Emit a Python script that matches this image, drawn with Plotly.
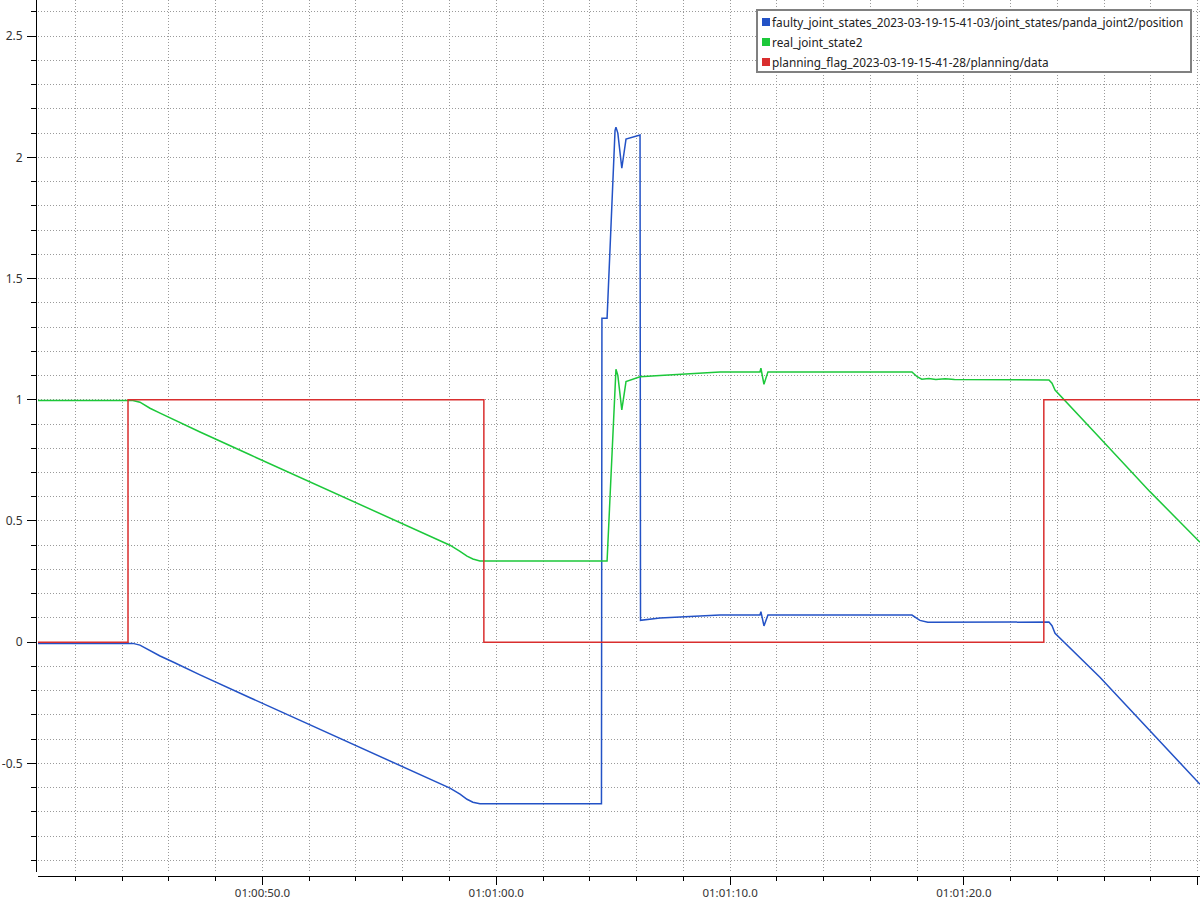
import plotly.graph_objects as go
import pandas as pd

# ---------------- data (seconds after 01:00:00) ----------------
BASE = pd.Timestamp("2023-03-19 01:00:00")

faulty_name = "faulty_joint_states_2023-03-19-15-41-03/joint_states/panda_joint2/position"
faulty_t = [40.40, 44.46, 44.76, 45.19, 45.62, 46.20, 47.33, 49.47, 51.60, 53.74,
            55.88, 56.74, 57.59, 58.02, 58.45, 58.75, 59.00, 59.30, 64.50, 64.52,
            64.74, 65.08, 65.12, 65.20, 65.37, 65.55, 66.15, 66.17, 67.00, 68.71,
            69.57, 71.28, 71.32, 71.45, 71.62, 77.78, 78.12, 78.46, 83.64, 83.77,
            83.90, 85.82, 87.96, 90.10]
faulty_v = [-0.005, -0.005, -0.012, -0.036, -0.057, -0.083, -0.135, -0.229, -0.322, -0.416,
            -0.510, -0.548, -0.585, -0.602, -0.627, -0.648, -0.660, -0.666, -0.666, 1.336,
            1.336, 2.110, 2.124, 2.100, 1.955, 2.075, 2.092, 0.090, 0.100, 0.108,
            0.112, 0.112, 0.126, 0.067, 0.112, 0.112, 0.090, 0.082, 0.083, 0.068,
            0.037, -0.145, -0.365, -0.586]

real_name = "real_joint_state2"
real_t = [40.40, 44.46, 44.76, 45.19, 45.62, 46.20, 47.33, 49.47, 51.60, 53.74,
          55.88, 56.74, 57.59, 58.02, 58.45, 58.75, 59.00, 59.30, 64.74, 65.08,
          65.12, 65.20, 65.37, 65.55, 66.15, 67.00, 68.71, 69.57, 71.28, 71.32,
          71.45, 71.62, 77.78, 78.00, 78.20, 78.50, 78.80, 79.20, 79.60, 83.64,
          83.77, 83.90, 85.82, 87.96, 90.10]
real_v = [0.997, 0.997, 0.990, 0.965, 0.945, 0.918, 0.867, 0.773, 0.680, 0.587,
          0.493, 0.456, 0.419, 0.400, 0.375, 0.355, 0.343, 0.335, 0.335, 1.100,
          1.126, 1.100, 0.958, 1.075, 1.095, 1.100, 1.110, 1.115, 1.115, 1.130,
          1.064, 1.115, 1.115, 1.095, 1.085, 1.088, 1.084, 1.087, 1.084, 1.082,
          1.068, 1.040, 0.842, 0.621, 0.412]

flag_name = "planning_flag_2023-03-19-15-41-28/planning/data"
flag_t = [40.40, 44.25, 59.47, 83.42, 90.10]
flag_v = [0, 1, 0, 1, 1]

x_range = [40.40, 90.10]
y_range = [-0.948, 2.649]
y_tickvals = [-0.5, 0, 0.5, 1, 1.5, 2, 2.5]
y_ticktext = ["-0.5", "0", "0.5", "1", "1.5", "2", "2.5"]

colors = {"faulty": "#2352c6", "real": "#1cc83a", "flag": "#d92e2e"}


def ts(secs):
    return [(BASE + pd.Timedelta(seconds=s)).strftime("%Y-%m-%d %H:%M:%S.%f") for s in secs]


fig = go.Figure()
fig.add_trace(go.Scatter(x=ts(faulty_t), y=faulty_v, mode="lines", name=faulty_name,
                         line=dict(color=colors["faulty"], width=1.5)))
fig.add_trace(go.Scatter(x=ts(real_t), y=real_v, mode="lines", name=real_name,
                         line=dict(color=colors["real"], width=1.5)))
fig.add_trace(go.Scatter(x=ts(flag_t), y=flag_v, mode="lines", name=flag_name,
                         line=dict(color=colors["flag"], width=1.5, shape="hv")))

W, H = 1200, 900
ML, MR, MT, MB = 36, 0, 0, 24
PW = W - ML - MR
PH = H - MT - MB
GRID = "#9a9a9a"
DASH = "1px,2px"

fig.update_layout(
    width=W, height=H,
    margin=dict(l=ML, r=MR, t=MT, b=MB, pad=0, autoexpand=False),
    plot_bgcolor="white", paper_bgcolor="white",
    showlegend=False,
    font=dict(family="Noto Sans", size=12, color="#333333"),
)

fig.update_xaxes(
    type="date", range=ts(x_range), domain=[2 / PW, 1],
    anchor="free", position=0, automargin=False,
    showline=True, linecolor="black", linewidth=1,
    ticks="outside", ticklen=8, tickcolor="black", tickwidth=1,
    tick0=ts([0])[0], dtick=10000, tickformat="%H:%M:%S.%1f",
    tickfont=dict(size=11.5, color="#333333"), ticklabelstandoff=-2,
    showgrid=True, gridcolor=GRID, griddash=DASH, gridwidth=1,
    zeroline=False,
    minor=dict(tick0=ts([0])[0], dtick=2000, ticks="outside", ticklen=4, tickcolor="black",
               showgrid=True, gridcolor=GRID, griddash=DASH, gridwidth=1),
)

fig.update_yaxes(
    range=y_range, domain=[4 / PH, 1],
    anchor="free", position=0, automargin=False,
    showline=True, linecolor="black", linewidth=1,
    ticks="outside", ticklen=9, tickcolor="black", tickwidth=1,
    tickmode="array", tickvals=y_tickvals, ticktext=y_ticktext,
    tickfont=dict(size=12, color="#333333"), ticklabelstandoff=2,
    showgrid=True, gridcolor=GRID, griddash=DASH, gridwidth=1,
    zeroline=False,
    minor=dict(tickmode="linear", tick0=0, dtick=0.1, ticks="outside", ticklen=5, tickcolor="black",
               showgrid=True, gridcolor=GRID, griddash=DASH, gridwidth=1),
)


# ---------------- custom legend (pixel layout -> paper coords) ----------------
def px(xp):
    return (xp - ML) / PW


def py(yp):
    return (H - MB - yp) / PH


fig.add_shape(type="rect", xref="paper", yref="paper",
              x0=px(757), x1=px(1191), y0=py(72), y1=py(10),
              line=dict(color="#808080", width=2), fillcolor="white", layer="above")

legend_items = [(faulty_name, colors["faulty"]), (real_name, colors["real"]), (flag_name, colors["flag"])]
for i, (name, col) in enumerate(legend_items):
    cy = 22 + 20 * i
    fig.add_shape(type="rect", xref="paper", yref="paper",
                  x0=px(762), x1=px(770), y0=py(cy + 4), y1=py(cy - 4),
                  line=dict(width=0), fillcolor=col, layer="above")
    fig.add_annotation(xref="paper", yref="paper", x=px(770), y=py(cy),
                       xanchor="left", yanchor="middle", showarrow=False,
                       text=name, font=dict(family="Noto Sans", size=11.8, color="#222222"))

fig.write_html("out.html", config={"displayModeBar": False},
               post_script="document.body.style.margin='0px';")
